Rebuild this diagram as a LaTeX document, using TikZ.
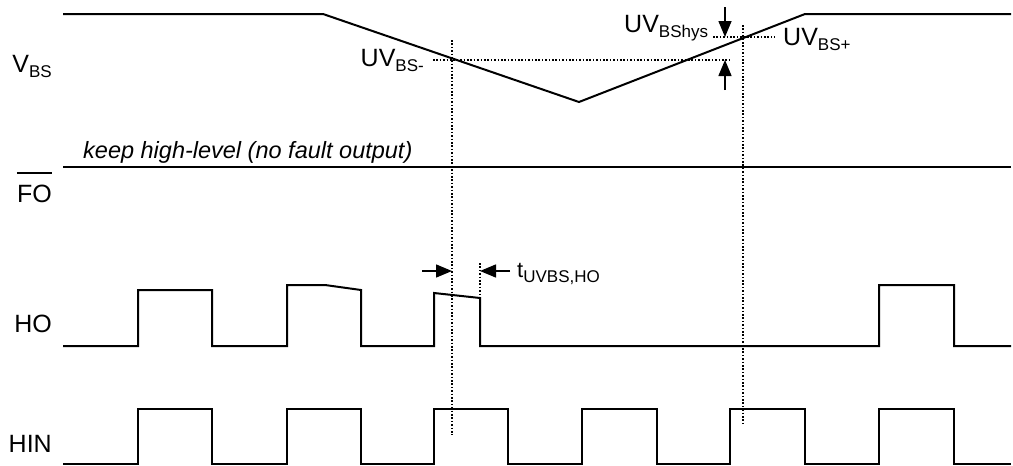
\documentclass[tikz,border=0pt]{standalone}
\usepackage{fontspec}
\setmainfont{Liberation Sans}
\usetikzlibrary{arrows.meta}
\newcommand{\sbs}[1]{\raisebox{-5pt}{\fontsize{17}{17}\selectfont #1}}
\begin{document}
\begin{tikzpicture}[x=1pt,y=-1pt,
  sig/.style={line width=2pt,line join=miter},
  dotln/.style={line width=1.5pt,dash pattern=on 1.6pt off 1.8pt},
  arr/.style={line width=1.5pt,-{Triangle[length=16pt,width=13pt]}},
  lbl/.style={inner sep=0pt,font=\fontsize{25}{25}\selectfont}]
\useasboundingbox (0,0) rectangle (1013,466);
% labels
\node[lbl,anchor=base east] (vbs) at (52,72) {V\sbs{BS}};
\node[lbl,anchor=base east] (fo) at (52,202) {FO};
\draw[line width=1.8pt] ([yshift=11pt]fo.north west) -- ([yshift=11pt]fo.north east);
\node[lbl,anchor=base east] (ho) at (52,332) {HO};
\node[lbl,anchor=base east] (hin) at (52,452) {HIN};
\node[lbl,anchor=base west,font=\fontsize{23.5}{23.5}\selectfont\itshape] (keep) at (83,158) {keep high-level (no fault output)};
\node[lbl,anchor=base east] (uvm) at (424,66) {UV\sbs{BS-}};
\node[lbl,anchor=base west] (uvh) at (624,32) {UV\sbs{BShys}};
\node[lbl,anchor=base west] (uvp) at (783,45) {UV\sbs{BS+}};
\node[lbl,anchor=base west] (tuv) at (517,277) {\fontsize{22}{22}\selectfont t\sbs{UVBS,HO}};
% VBS waveform
\draw[sig] (63,14) -- (323,14) -- (579,102) -- (805,14) -- (1011,14);
% FO line
\draw[sig] (63,167) -- (1011,167);
% HO
\draw[sig] (63,346) -- (138,346) -- (138,290) -- (212,290) -- (212,346)
  -- (287,346) -- (287,285) -- (325,285) -- (361,290) -- (361,346)
  -- (434,346) -- (434,293) -- (480,298) -- (480,346)
  -- (879,346) -- (879,285) -- (954,285) -- (954,346) -- (1011,346);
% HIN
\draw[sig] (63,464) -- (138,464) -- (138,409) -- (212,409) -- (212,464)
  -- (287,464) -- (287,409) -- (361,409) -- (361,464)
  -- (434,464) -- (434,409) -- (508,409) -- (508,464)
  -- (582,464) -- (582,409) -- (657,409) -- (657,464)
  -- (730,464) -- (730,409) -- (805,409) -- (805,464)
  -- (879,464) -- (879,409) -- (954,409) -- (954,464) -- (1011,464);
% dotted lines
\coordinate (d1a) at (452,40);  \coordinate (d1b) at (452,435);
\coordinate (d2a) at (743,25);  \coordinate (d2b) at (743,425);
\coordinate (d3a) at (480,263); \coordinate (d3b) at (480,298);
\coordinate (h1a) at (433,60);  \coordinate (h1b) at (730,60);
\coordinate (h2a) at (713,37);  \coordinate (h2b) at (775,37);
\draw[dotln] (d1a) -- (d1b);
\draw[dotln] (d2a) -- (d2b);
\draw[dotln] (d3a) -- (d3b);
\draw[dotln] (h1a) -- (h1b);
\draw[dotln] (h2a) -- (h2b);
% arrows
\coordinate (a1s) at (725,7);   \coordinate (a1e) at (725,37);
\coordinate (a2s) at (725,90);  \coordinate (a2e) at (725,60);
\coordinate (a3s) at (422,271); \coordinate (a3e) at (452,271);
\coordinate (a4s) at (510,271); \coordinate (a4e) at (480,271);
\draw[arr] (a1s) -- (a1e);
\draw[arr] (a2s) -- (a2e);
\draw[arr] (a3s) -- (a3e);
\draw[arr] (a4s) -- (a4e);
\end{tikzpicture}
\end{document}
